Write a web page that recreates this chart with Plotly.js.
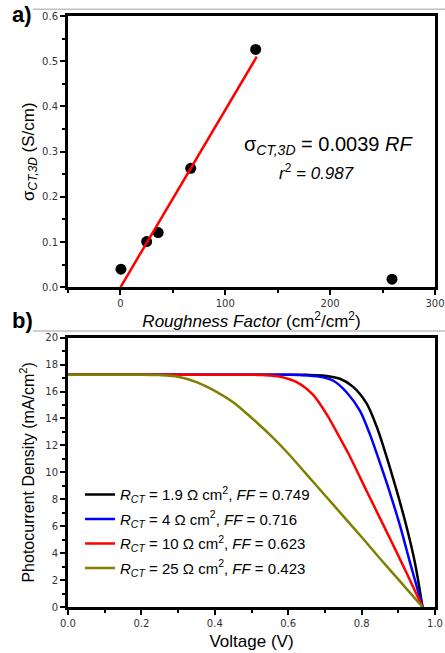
<!DOCTYPE html>
<html><head><meta charset="utf-8">
<script src="https://cdn.plot.ly/plotly-3.0.1.min.js"></script>
<style>html,body{margin:0;padding:0;background:#fff}</style>
</head><body><div id="chart" style="width:445px;height:653px"></div>
<script>
// Panel a) data
const roughness = [0.5, 25, 36, 67, 129, 259];
const sigmaCT = [0.040, 0.101, 0.121, 0.263, 0.526, 0.018];
const fitRF = [0, 130];
const fitSigma = [0, 0.51];

// Panel b) data
const vBlack = [0, 0.2, 0.4, 0.6, 0.65, 0.70, 0.741, 0.777, 0.814, 0.841, 0.859, 0.896, 0.923, 0.946, 0.966];
const jBlack = [17.25, 17.25, 17.25, 17.25, 17.24, 17.18, 16.95, 16.35, 15.1, 13.4, 11.95, 8.6, 5.9, 3.2, 0];
const vBlue = [0, 0.2, 0.4, 0.6, 0.632, 0.687, 0.723, 0.759, 0.796, 0.823, 0.850, 0.877, 0.905, 0.932, 0.966];
const jBlue = [17.25, 17.25, 17.25, 17.24, 17.22, 17.1, 16.8, 15.95, 14.55, 12.8, 10.7, 8.5, 6.0, 3.3, 0];
const vRed = [0, 0.2, 0.4, 0.5, 0.532, 0.578, 0.623, 0.668, 0.705, 0.741, 0.764, 0.814, 0.850, 0.877, 0.923, 0.966];
const jRed = [17.25, 17.25, 17.25, 17.25, 17.22, 17.1, 16.7, 15.75, 14.3, 12.55, 11.4, 8.6, 6.6, 5.1, 2.5, 0];
const vOlive = [0, 0.1, 0.2, 0.25, 0.30, 0.35, 0.40, 0.45, 0.50, 0.55, 0.60, 0.65, 0.70, 0.75, 0.80, 0.85, 0.90, 0.966];
const jOlive = [17.25, 17.25, 17.25, 17.22, 17.1, 16.7, 16.05, 15.2, 14.05, 12.8, 11.4, 9.85, 8.3, 6.75, 5.2, 3.6, 2.05, 0];
const legendNames = [
  '<i>R</i><sub><i>CT</i></sub> = 1.9 Ω cm<sup>2</sup>, <i>FF</i> = 0.749',
  '<i>R</i><sub><i>CT</i></sub> = 4 Ω cm<sup>2</sup>, <i>FF</i> = 0.716',
  '<i>R</i><sub><i>CT</i></sub> = 10 Ω cm<sup>2</sup>, <i>FF</i> = 0.623',
  '<i>R</i><sub><i>CT</i></sub> = 25 Ω cm<sup>2</sup>, <i>FF</i> = 0.423'
];
const curveColors = ['#000000', '#0000ff', '#ff0000', '#808000'];

const AR = 'Liberation Sans, Arial, sans-serif';
const TK = {family: 'DejaVu Sans, Verdana, sans-serif', size: 10, color: '#333'};

const traces = [
  {x: roughness, y: sigmaCT, type: 'scatter', mode: 'markers', xaxis: 'x', yaxis: 'y',
   marker: {color: '#000', size: 11}, showlegend: false},
  {x: fitRF, y: fitSigma, type: 'scatter', mode: 'lines', xaxis: 'x', yaxis: 'y',
   line: {color: '#ff0000', width: 2.5}, showlegend: false}
];
const vs = [vBlack, vBlue, vRed, vOlive];
const js = [jBlack, jBlue, jRed, jOlive];
for (let i = 0; i < 4; i++) {
  traces.push({x: vs[i], y: js[i], type: 'scatter', mode: 'lines', xaxis: 'x2', yaxis: 'y2',
    name: legendNames[i], legendgroup: 'g' + i,
    line: {color: curveColors[i], width: 2.5, shape: 'spline', smoothing: 0.8}});
}

const axCommon = {
  showline: true, linewidth: 3, linecolor: '#000', mirror: true,
  showgrid: false, zeroline: false, ticks: 'outside', ticklen: 5, tickwidth: 2, tickcolor: '#000',
  tickfont: TK
};

const layout = {
  width: 445, height: 653,
  margin: {l: 68, r: 10, t: 16, b: 46},
  paper_bgcolor: '#fff', plot_bgcolor: '#fff',
  showlegend: true,
  xaxis: Object.assign({}, axCommon, {
    domain: [0, 1], anchor: 'y', range: [-50, 300], tick0: 0, dtick: 100,
    minor: {ticks: 'outside', ticklen: 3, tickwidth: 2, dtick: 50, tickcolor: '#000'},
    title: {text: '<i>Roughness Factor</i> (cm<sup>2</sup>/cm<sup>2</sup>)', font: {family: AR, size: 17, color: '#000'}, standoff: 4}
  }),
  yaxis: Object.assign({}, axCommon, {
    domain: [0.541, 1], anchor: 'x', range: [0, 0.6], dtick: 0.1, tickformat: '.1f',
    minor: {ticks: 'outside', ticklen: 3, tickwidth: 2, dtick: 0.05, tickcolor: '#000'},
    title: {text: 'σ<sub><i>CT,3D</i></sub> (S/cm)', font: {family: AR, size: 17, color: '#000'}, standoff: 4}
  }),
  xaxis2: Object.assign({}, axCommon, {
    domain: [0, 1], anchor: 'y2', range: [0, 1], dtick: 0.2, tickformat: '.1f',
    minor: {ticks: 'outside', ticklen: 3, tickwidth: 2, dtick: 0.1, tickcolor: '#000'},
    title: {text: 'Voltage (V)', font: {family: AR, size: 17, color: '#000'}, standoff: 8}
  }),
  yaxis2: Object.assign({}, axCommon, {
    domain: [0, 0.4557], anchor: 'x2', range: [0, 20], dtick: 2,
    minor: {ticks: 'outside', ticklen: 3, tickwidth: 2, dtick: 1, tickcolor: '#000'},
    title: {text: 'Photocurrent Density (mA/cm<sup>2</sup>)', font: {family: AR, size: 16, color: '#000'}, standoff: 7}
  }),
  legend: {x: 0.0327, y: 0.218, xanchor: 'left', yanchor: 'top', bgcolor: 'rgba(0,0,0,0)', borderwidth: 0,
    tracegroupgap: 2, font: {family: AR, size: 15, color: '#000'}},
  annotations: [
    {text: '<b>a)</b>', xref: 'paper', yref: 'paper', x: -0.158, y: 1.0017, xanchor: 'left', yanchor: 'middle',
     showarrow: false, font: {family: AR, size: 22, color: '#000'}},
    {text: '<b>b)</b>', xref: 'paper', yref: 'paper', x: -0.158, y: 0.4856, xanchor: 'left', yanchor: 'middle',
     showarrow: false, font: {family: AR, size: 22, color: '#000'}},
    {text: 'σ<sub><i>CT,3D</i></sub> = 0.0039 <i>RF</i>', xref: 'x', yref: 'y', x: 198, y: 0.314,
     showarrow: false, font: {family: AR, size: 20, color: '#000'}},
    {text: '<i>r</i><sup>2</sup><i> = 0.987</i>', xref: 'x', yref: 'y', x: 187, y: 0.255,
     showarrow: false, font: {family: AR, size: 17, color: '#000'}}
  ],
  shapes: [
    {type: 'line', xref: 'paper', yref: 'paper', x0: -0.0954, x1: 1.0272, y0: 1.0113, y1: 1.0113,
     line: {color: '#c0c0c0', width: 1.5}},
    {type: 'line', xref: 'paper', yref: 'paper', x0: -0.0954, x1: 1.0272, y0: 0.467, y1: 0.467,
     line: {color: '#c0c0c0', width: 1.5}}
  ]
};

Plotly.newPlot('chart', traces, layout, {staticPlot: true, displayModeBar: false});
</script>
</body></html>
